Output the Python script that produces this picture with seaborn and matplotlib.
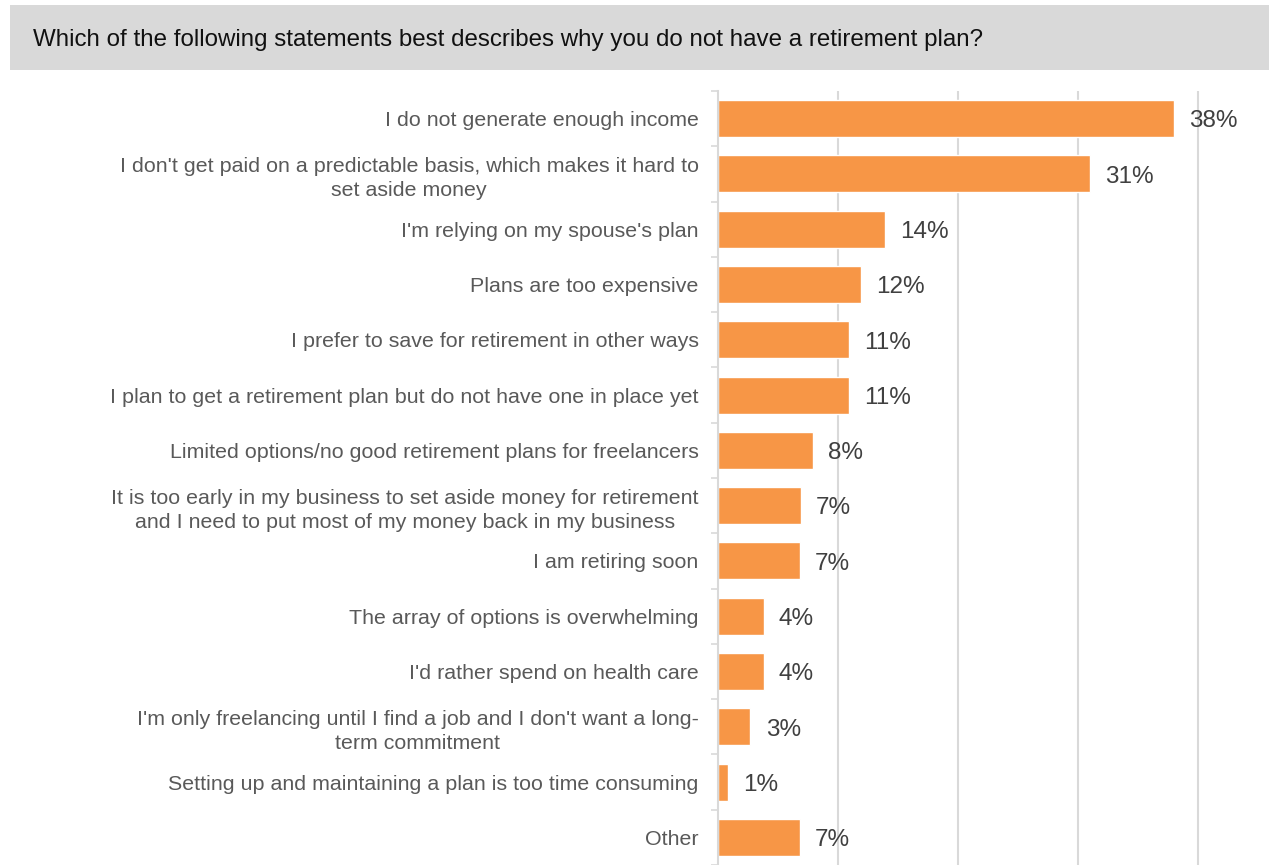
import matplotlib
matplotlib.use("Agg")
import matplotlib.pyplot as plt
import seaborn as sns
import pandas as pd
from matplotlib.patches import Rectangle

title = "Which of the following statements best describes why you do not have a retirement plan?"

reasons = [
    "I do not generate enough income",
    "I don't get paid on a predictable basis, which makes it hard to\nset aside money",
    "I'm relying on my spouse's plan",
    "Plans are too expensive",
    "I prefer to save for retirement in other ways",
    "I plan to get a retirement plan but do not have one in place yet",
    "Limited options/no good retirement plans for freelancers",
    "It is too early in my business to set aside money for retirement\nand I need to put most of my money back in my business",
    "I am retiring soon",
    "The array of options is overwhelming",
    "I'd rather spend on health care",
    "I'm only freelancing until I find a job and I don't want a long-\nterm commitment",
    "Setting up and maintaining a plan is too time consuming",
    "Other",
]
shares = [38.0, 31.0, 13.9, 11.9, 10.9, 10.9, 7.9, 6.9, 6.8, 3.8, 3.8, 2.7, 0.8, 6.8]

df = pd.DataFrame({"reason": reasons, "share": shares})

sns.set_theme(style="white")
plt.rcParams["font.family"] = ["Liberation Sans", "DejaVu Sans"]

fig = plt.figure(figsize=(12.69, 8.65), dpi=100)
ax = fig.add_axes([718 / 1269, 0, 540 / 1269, 1 - 91 / 865])

sns.barplot(data=df, x="share", y="reason", color="#f79646", saturation=1,
            width=0.67, ax=ax, orient="h")

ax.set_xlim(0, 45)
ax.set_ylim(len(reasons) - 0.5, -0.5)
ax.set_xticks([10, 20, 30, 40])
ax.set_xticklabels([])
ax.grid(axis="x", color="#d9d9d9", linewidth=1.5)
ax.set_axisbelow(True)
ax.tick_params(axis="x", length=0)

for s in ["top", "right", "bottom"]:
    ax.spines[s].set_visible(False)
ax.spines["left"].set_color("#d9d9d9")
ax.spines["left"].set_linewidth(1.5)

ax.set_yticks([i + 0.5 for i in range(-1, len(reasons))], minor=True)
ax.tick_params(axis="y", which="minor", length=5, color="#d9d9d9", width=1.2, left=True)
ax.tick_params(axis="y", which="major", length=0, pad=14, labelsize=15.4, labelcolor="#595959")
for lab in ax.get_yticklabels():
    lab.set_multialignment("center")
    lab.set_linespacing(1.35)

ax.set_xlabel("")
ax.set_ylabel("")

vals = ax.bar_label(ax.containers[0], labels=[f"{round(v)}%" for v in shares],
                    padding=11, fontsize=17.5, color="#404040")
for t in vals:
    t.xyann = (11, -2)

fig.patches.append(Rectangle((10 / 1269, 1 - 70 / 865), 1, 65 / 865,
                             transform=fig.transFigure, facecolor="#d9d9d9",
                             edgecolor="none", zorder=0))
fig.text(33 / 1269, 1 - 40 / 865, title, fontsize=17.4, color="#111111", va="center", ha="left")

fig.savefig("out.png", dpi=100)
